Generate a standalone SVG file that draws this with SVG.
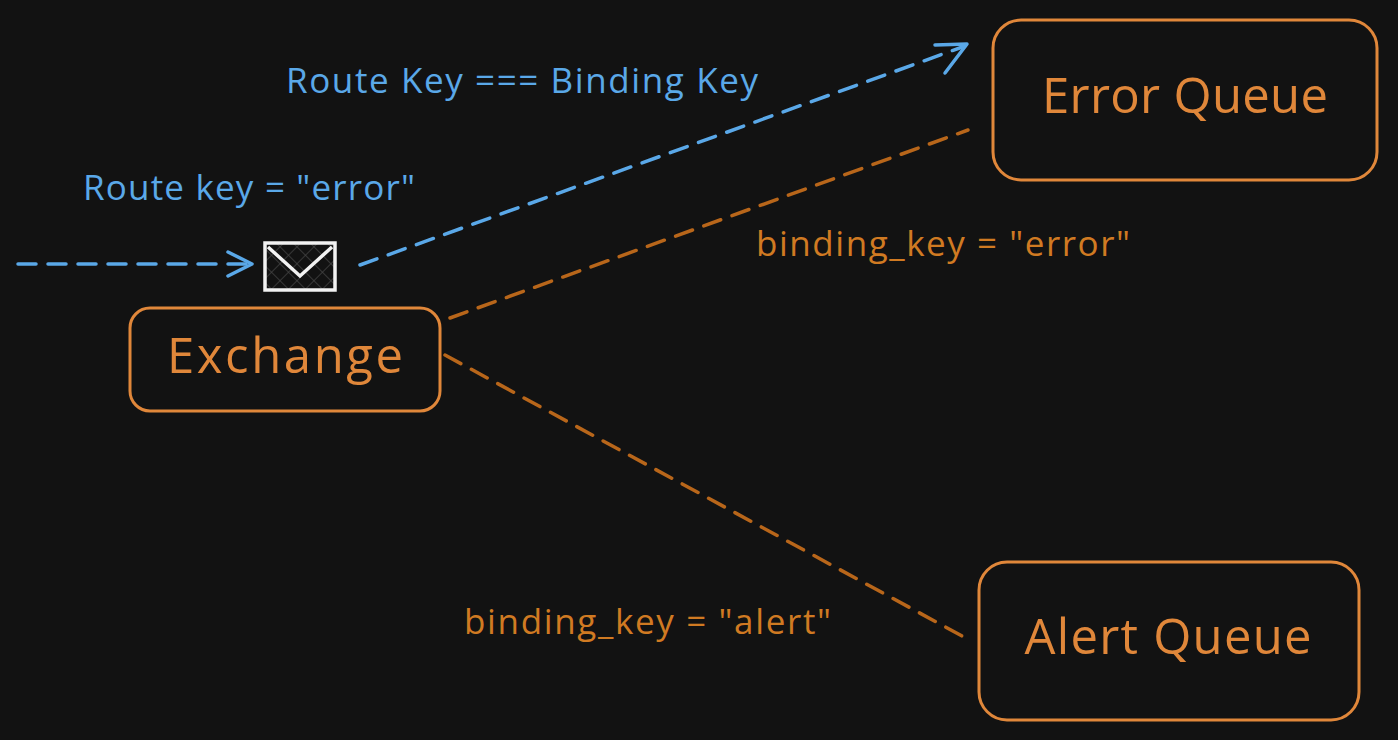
<svg xmlns="http://www.w3.org/2000/svg" width="1398" height="740" viewBox="0 0 1398 740">
<style>
.box{fill:none;stroke:#e0873a;stroke-width:3}
.t{font-family:"Open Sans","Liberation Sans",sans-serif;font-size:49px;fill:#e0873a;text-anchor:middle}
.bl{font-family:"Open Sans","Liberation Sans",sans-serif;font-size:35px;fill:#5aa8e8}
.or{font-family:"Open Sans","Liberation Sans",sans-serif;font-size:35px;fill:#d07a22}
.db{fill:none;stroke:#5aa8e8;stroke-width:3.5;stroke-dasharray:18 12;stroke-linecap:round}
.do{fill:none;stroke:#b8661a;stroke-width:3.5;stroke-dasharray:18 12;stroke-linecap:round}
.ah{fill:none;stroke:#5aa8e8;stroke-width:3.5;stroke-linecap:round;stroke-linejoin:round}
</style>
<defs>
<pattern id="h" width="12" height="12" patternUnits="userSpaceOnUse" patternTransform="rotate(45)">
<path d="M0 0H12M0 0V12" stroke="#444" stroke-width="1.5"/>
</pattern>
</defs>
<rect width="1398" height="740" fill="#121212"/>
<g id="connectors">
<path class="db" d="M18 264 L248 264"/>
<path class="ah" d="M228 252 L252 264 L228 276"/>
<path class="db" d="M360 265 L965 46"/>
<path class="ah" d="M935 45 L967 44 L945 73"/>
<path class="do" d="M450 318 L968 130"/>
<path class="do" d="M445 355 L962 636"/>
</g>
<g id="exchange">
<rect class="box" x="130" y="308" width="310" height="103" rx="20"/>
<text class="t" x="285" y="373" textLength="236" lengthAdjust="spacing">Exchange</text>
</g>
<g id="error-queue">
<rect class="box" x="993" y="20" width="384" height="160" rx="28"/>
<text class="t" x="1185" y="113" textLength="286" lengthAdjust="spacing">Error Queue</text>
</g>
<g id="alert-queue">
<rect class="box" x="979" y="562" width="380" height="158" rx="28"/>
<text class="t" x="1168" y="654" textLength="287" lengthAdjust="spacing">Alert Queue</text>
</g>
<g id="envelope">
<rect x="265" y="243" width="70" height="47" fill="url(#h)" stroke="#f2f2f2" stroke-width="3.5"/>
<path d="M268 247 L300 276 L332 247" fill="none" stroke="#f2f2f2" stroke-width="3.5"/>
</g>
<text class="bl" x="286" y="93" textLength="472" lengthAdjust="spacing">Route Key === Binding Key</text>
<text class="bl" x="83" y="200" textLength="332" lengthAdjust="spacing">Route key = "error"</text>
<text class="or" x="756" y="256" textLength="374" lengthAdjust="spacing">binding_key = "error"</text>
<text class="or" x="464" y="634" textLength="367" lengthAdjust="spacing">binding_key = "alert"</text>
</svg>
